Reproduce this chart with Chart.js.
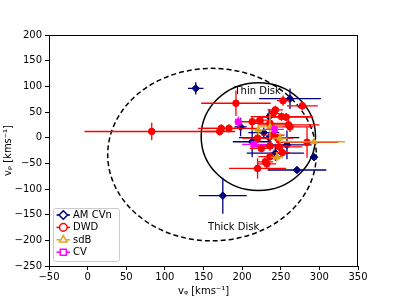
<!DOCTYPE html>
<html>
<head>
<meta charset="utf-8">
<script src="https://cdn.jsdelivr.net/npm/chart.js@4"></script>
<style>
  body { margin: 0; background: #fff; }
  #wrap { width: 399px; height: 299px; }
</style>
</head>
<body>
<div id="wrap"><canvas id="myChart" width="399" height="299"></canvas></div>
<script>
// AM CVn
const amcvnPhi = [140, 175, 262, 293, 271, 235, 198, 235, 258, 243, 213, 228]
const amcvnRho = [96, -113, 76, -38, -63, 41, 21, 0, -14, -30, -8, 10]
const amcvnPhiErr = [10, 31, 40, 5, 38, 10, 8, 39, 32, 37, 25, 20]
const amcvnRhoErr = [12, 35, 20, 5, 5, 15, 18, 10, 28, 15, 30, 10]

// DWD
const dwdPhi = [83, 192, 253, 278, 243, 240, 251, 257, 260, 262, 213, 223, 171, 173, 183, 236, 220, 225, 236, 248, 240, 246, 284, 252, 236, 230, 232, 220]
const dwdRho = [12, 67, 72, 62, 54, 47, 41, 40, 25, 21, 31, 34, 12, 18, 18, 28, -1, -21, -16, -18, 5, -1, -9, -29, -37, -47, -51, -60]
const dwdPhiErr = [87, 45, 8, 20, 10, 8, 40, 35, 40, 30, 15, 10, 20, 25, 40, 20, 20, 15, 25, 30, 15, 20, 40, 10, 15, 10, 12, 37]
const dwdRhoErr = [17, 25, 10, 8, 8, 8, 8, 8, 10, 10, 10, 8, 8, 8, 8, 10, 10, 8, 10, 8, 8, 8, 30, 8, 8, 8, 8, 20]

// sdB
const sdbPhi = [221, 236, 249, 245, 293]
const sdbRho = [15, 21, -1, -38, -8]
const sdbPhiErr = [10, 15, 10, 8, 40]
const sdbRhoErr = [10, 25, 10, 10, 5]

// CV
const cvPhi = [195, 242, 215]
const cvRho = [31, 16, -13]
const cvPhiErr = [5, 12, 15]
const cvRhoErr = [10, 8, 5]

const xTicks = [-50, 0, 50, 100, 150, 200, 250, 300, 350]
const yTicks = [-250, -200, -150, -100, -50, 0, 50, 100, 150, 200]

// disk ellipses: centre and semi-axes in km/s
const thinDisk = { phi: 221, rho: 2, rPhi: 74, rRho: 105 }
const thickDisk = { phi: 161, rho: -33, rPhi: 135, rRho: 168 }

function pts(xs, ys) {
    return xs.map((x, i) => ({ x: x, y: ys[i] }))
}

const series = [
    { label: 'AM CVn', color: '#000080', style: 'rectRot', r: 3.8, xs: amcvnPhi, ys: amcvnRho, xe: amcvnPhiErr, ye: amcvnRhoErr },
    { label: 'DWD', color: '#ff0000', style: 'circle', r: 3.3, xs: dwdPhi, ys: dwdRho, xe: dwdPhiErr, ye: dwdRhoErr },
    { label: 'sdB', color: '#daa520', style: 'triangle', r: 3.8, xs: sdbPhi, ys: sdbRho, xe: sdbPhiErr, ye: sdbRhoErr },
    { label: 'CV', color: '#ff00ff', style: 'rect', r: 3.8, xs: cvPhi, ys: cvRho, xe: cvPhiErr, ye: cvRhoErr },
]

const minus = v => String(v).replace('-', '\u2212')

const extras = {
    id: 'extras',
    beforeDatasetsDraw(chart) {
        const { ctx, chartArea: a, scales: { x, y } } = chart
        ctx.save()
        ctx.beginPath()
        ctx.rect(a.left, a.top, a.right - a.left, a.bottom - a.top)
        ctx.clip()
        ctx.strokeStyle = '#000'
        ctx.lineWidth = 1.5
        ;[thinDisk, thickDisk].forEach((d, i) => {
            const cx = x.getPixelForValue(d.phi), cy = y.getPixelForValue(d.rho)
            const rx = Math.abs(x.getPixelForValue(d.phi + d.rPhi) - cx)
            const ry = Math.abs(y.getPixelForValue(d.rho + d.rRho) - cy)
            ctx.setLineDash(i ? [5, 3] : [])
            ctx.beginPath()
            ctx.ellipse(cx, cy, rx, ry, 0, 0, Math.PI * 2)
            ctx.stroke()
        })
        ctx.restore()
    },
    beforeDatasetDraw(chart, args) {
        const s = series[args.index]
        const { ctx, chartArea: a, scales: { x, y } } = chart
        ctx.save()
        ctx.beginPath()
        ctx.rect(a.left, a.top, a.right - a.left, a.bottom - a.top)
        ctx.clip()
        ctx.strokeStyle = s.color
        ctx.lineWidth = 1.3
        s.xs.forEach((v, i) => {
            const px = x.getPixelForValue(v), py = y.getPixelForValue(s.ys[i])
            ctx.beginPath()
            ctx.moveTo(x.getPixelForValue(v - s.xe[i]), py)
            ctx.lineTo(x.getPixelForValue(v + s.xe[i]), py)
            ctx.moveTo(px, y.getPixelForValue(s.ys[i] - s.ye[i]))
            ctx.lineTo(px, y.getPixelForValue(s.ys[i] + s.ye[i]))
            ctx.stroke()
        })
        ctx.restore()
    },
    afterDraw(chart) {
        const { ctx, chartArea: a, scales: { x, y } } = chart
        ctx.save()
        // frame
        ctx.strokeStyle = '#000'
        ctx.lineWidth = 1
        ctx.strokeRect(a.left + 0.5, a.top + 0.5, a.right - a.left - 1, a.bottom - a.top)
        // disk labels
        ctx.fillStyle = '#000'
        ctx.font = '10px "DejaVu Sans"'
        ctx.textAlign = 'center'
        ctx.textBaseline = 'middle'
        ctx.fillText('Thin Disk', x.getPixelForValue(220), y.getPixelForValue(90))
        ctx.fillText('Thick Disk', x.getPixelForValue(189), y.getPixelForValue(-174))
        // legend
        const bx = a.left + 4, by = a.bottom - 58, bw = 66, bh = 53
        ctx.fillStyle = 'rgba(255,255,255,0.8)'
        ctx.strokeStyle = '#cccccc'
        ctx.lineWidth = 1
        ctx.beginPath()
        ctx.roundRect(bx + 0.5, by + 0.5, bw, bh, 2)
        ctx.fill()
        ctx.stroke()
        ctx.textAlign = 'left'
        series.forEach((s, i) => {
            const ly = by + 7 + i * 12.4
            ctx.strokeStyle = s.color
            ctx.lineWidth = 1.5
            ctx.beginPath()
            ctx.moveTo(bx + 3.5, ly)
            ctx.lineTo(bx + 17, ly)
            ctx.stroke()
            ctx.fillStyle = '#fff'
            Chart.helpers.drawPoint(ctx, { pointStyle: s.style, radius: s.r + 0.5, rotation: 0, borderWidth: 1.3 }, bx + 10.3, ly)
            ctx.fillStyle = '#000'
            ctx.fillText(s.label, bx + 20, ly + 0.5)
        })
        ctx.restore()
    }
}

const ctx = document.getElementById('myChart')

const data = {
    datasets: series.map((s, i) => ({
        label: s.label,
        data: pts(s.xs, s.ys),
        pointStyle: s.style,
        pointRadius: s.r,
        pointHoverRadius: s.r,
        backgroundColor: s.color,
        borderColor: s.color,
        borderWidth: 1,
        order: 4 - i
    }))
}

const config = {
    type: 'scatter',
    data: data,
    options: {
        responsive: false,
        animation: false,
        events: [],
        layout: { padding: { top: 35, right: 41, left: 0, bottom: 0 } },
        plugins: { legend: { display: false }, tooltip: { enabled: false } },
        scales: {
            x: {
                type: 'linear',
                min: -50,
                max: 350,
                afterBuildTicks: s => { s.ticks = xTicks.map(v => ({ value: v })) },
                afterFit: s => { s.height = 33 },
                ticks: { color: '#000', font: { size: 10, family: 'DejaVu Sans' }, padding: 1, maxRotation: 0, callback: minus },
                grid: { drawOnChartArea: false, drawTicks: true, tickLength: 4, color: '#000' },
                border: { display: true, color: '#000' },
                title: { display: true, text: 'v\u1D69 [kms\u207B\u00B9]', color: '#000', font: { size: 10, family: 'DejaVu Sans' }, padding: { top: 0, bottom: 2 } }
            },
            y: {
                type: 'linear',
                min: -250,
                max: 200,
                afterBuildTicks: s => { s.ticks = yTicks.map(v => ({ value: v })) },
                afterFit: s => { s.width = 49 },
                ticks: { color: '#000', font: { size: 10, family: 'DejaVu Sans' }, padding: 3, callback: minus },
                grid: { drawOnChartArea: false, drawTicks: true, tickLength: 4, color: '#000' },
                border: { display: true, color: '#000' },
                title: { display: true, text: 'v\u1D68 [kms\u207B\u00B9]', color: '#000', font: { size: 10, family: 'DejaVu Sans' }, padding: { top: 2, bottom: 0 } }
            }
        }
    },
    plugins: [extras]
}

const myChart = new Chart(ctx, config)
</script>
</body>
</html>
